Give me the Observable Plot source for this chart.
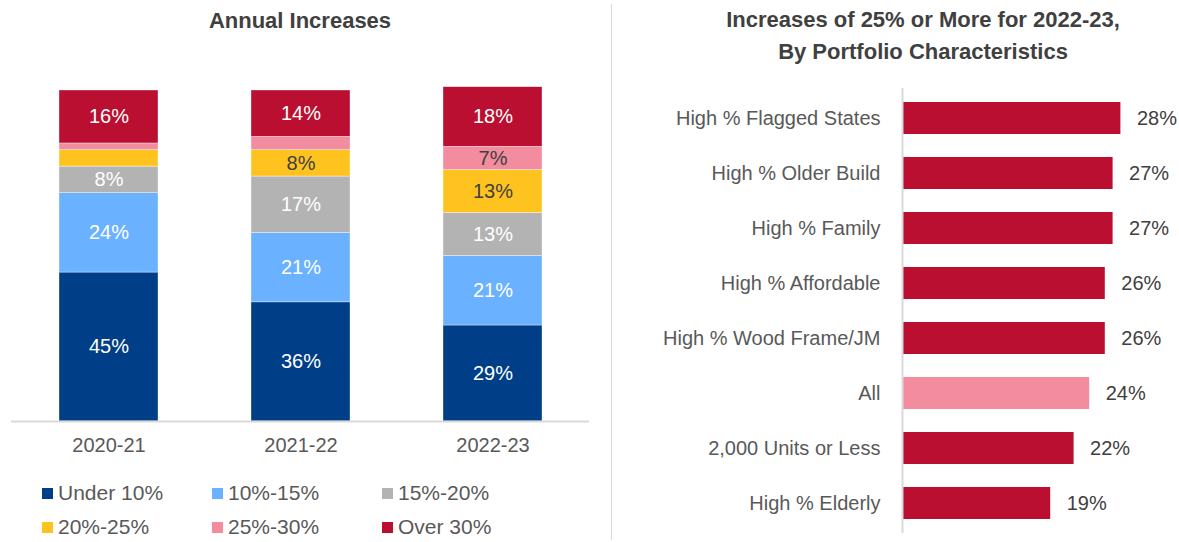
<!DOCTYPE html>
<html><head><meta charset="utf-8">
<script src="https://cdn.jsdelivr.net/npm/d3@7"></script>
<script src="https://cdn.jsdelivr.net/npm/@observablehq/plot@0.6"></script>
<style>
body{margin:0;background:#fff;}
#root{position:relative;width:1179px;height:542px;overflow:hidden;font-family:"Liberation Sans Narrow","Arial Narrow","Liberation Sans",sans-serif;}
.title{position:absolute;font-weight:bold;color:#404040;text-align:center;font-size:22px;line-height:32px;white-space:nowrap;}
.divider{position:absolute;left:611px;top:4px;width:1px;height:536px;background:#d9d9d9;}
.leg{position:absolute;display:flex;align-items:center;font-size:21px;color:#595959;white-space:nowrap;}
.sw{width:11px;height:11px;margin-right:5px;}
.panel{position:absolute;top:60px;}
</style></head>
<body><div id="root">
<div class="title" style="left:0;width:600px;top:5px;">Annual Increases</div>
<div class="title" style="left:623px;width:600px;top:4px;">Increases of 25% or More for 2022-23,<br>By Portfolio Characteristics</div>
<div class="divider"></div>
<div id="left" class="panel" style="left:0;"></div>
<div id="right" class="panel" style="left:610px;"></div>
<div id="legend"></div>
</div>
<script>
// Left chart data
const years = ["2020-21", "2021-22", "2022-23"];
const bands = ["Under 10%", "10%-15%", "15%-20%", "20%-25%", "25%-30%", "Over 30%"];
const bandColors = ["#003f87", "#6ab2ff", "#b3b3b3", "#ffc31f", "#f48ca0", "#ba0f30"];
const under10 = [45, 36, 29];
const p10to15 = [24, 21, 21];
const p15to20 = [8, 17, 13];
const p20to25 = [5, 8, 13];
const p25to30 = [2, 4, 7];
const over30 = [16, 14, 18];

// Right chart data
const traits = ["High % Flagged States", "High % Older Build", "High % Family", "High % Affordable", "High % Wood Frame/JM", "All", "2,000 Units or Less", "High % Elderly"];
const shares = [28, 27, 27, 26, 26, 24, 22, 19];

const FONT = '"Liberation Sans Narrow","Arial Narrow","Liberation Sans",sans-serif';
const series = [under10, p10to15, p15to20, p20to25, p25to30, over30];
const rows = [];
bands.forEach((b, i) => years.forEach((y, j) => rows.push({year: y, band: b, value: series[i][j]})));
const darkText = new Set(["20%-25%", "25%-30%"]);

const left = Plot.plot({
  width: 600, height: 482,
  marginTop: 30, marginBottom: 121, marginLeft: 11, marginRight: 11,
  style: {fontFamily: FONT, color: "#595959", background: "transparent"},
  x: {domain: years, paddingInner: 0.486, paddingOuter: 0.243, label: null},
  y: {domain: [0, 100], axis: null},
  color: {domain: bands, range: bandColors},
  marks: [
    Plot.barY(rows, Plot.stackY({x: "year", y: "value", fill: "band", order: null, stroke: "white", strokeWidth: 0.6, strokeOpacity: 0.6})),
    Plot.text(rows, Plot.stackY({x: "year", y: "value", order: null, fontSize: 20, fill: "white",
      text: d => (d.value >= 6 && !darkText.has(d.band)) ? d.value + "%" : ""})),
    Plot.text(rows, Plot.stackY({x: "year", y: "value", order: null, fontSize: 20, fill: "#404040",
      text: d => (d.value >= 6 && darkText.has(d.band)) ? d.value + "%" : ""})),
    Plot.ruleY([0], {stroke: "#d9d9d9", strokeWidth: 2}),
    Plot.axisX({tickSize: 0, tickPadding: 16, fontSize: 20, fill: "#595959"})
  ]
});
document.getElementById("left").appendChild(left);

const bars = traits.map((t, i) => ({trait: t, share: shares[i]}));
const right = Plot.plot({
  width: 569, height: 482,
  marginTop: 28, marginBottom: 9, marginLeft: 292, marginRight: 4,
  style: {fontFamily: FONT, color: "#595959", background: "transparent"},
  x: {domain: [0, 35], axis: null},
  y: {domain: traits, paddingInner: 0.42, paddingOuter: 0.21, label: null},
  marks: [
    Plot.barX(bars, {y: "trait", x: "share", fill: d => d.trait === "All" ? "#f48ca0" : "#ba0f30"}),
    Plot.text(bars, {y: "trait", x: "share", text: d => d.share + "%", textAnchor: "start", dx: 16, fontSize: 20, fill: "#404040"}),
    Plot.ruleX([0], {stroke: "#d9d9d9", strokeWidth: 2}),
    Plot.axisY({tickSize: 0, tickPadding: 22, fontSize: 20, fill: "#595959"})
  ]
});
document.getElementById("right").appendChild(right);

// Legend
const legPos = [[42, 493], [212, 493], [382, 493], [42, 527], [212, 527], [382, 527]];
const legend = document.getElementById("legend");
bands.forEach((b, i) => {
  const el = document.createElement("div");
  el.className = "leg";
  el.style.left = legPos[i][0] + "px";
  el.style.top = (legPos[i][1] - 13) + "px";
  el.style.height = "26px";
  el.innerHTML = `<div class="sw" style="background:${bandColors[i]}"></div><span>${b}</span>`;
  legend.appendChild(el);
});
</script>
</body></html>
